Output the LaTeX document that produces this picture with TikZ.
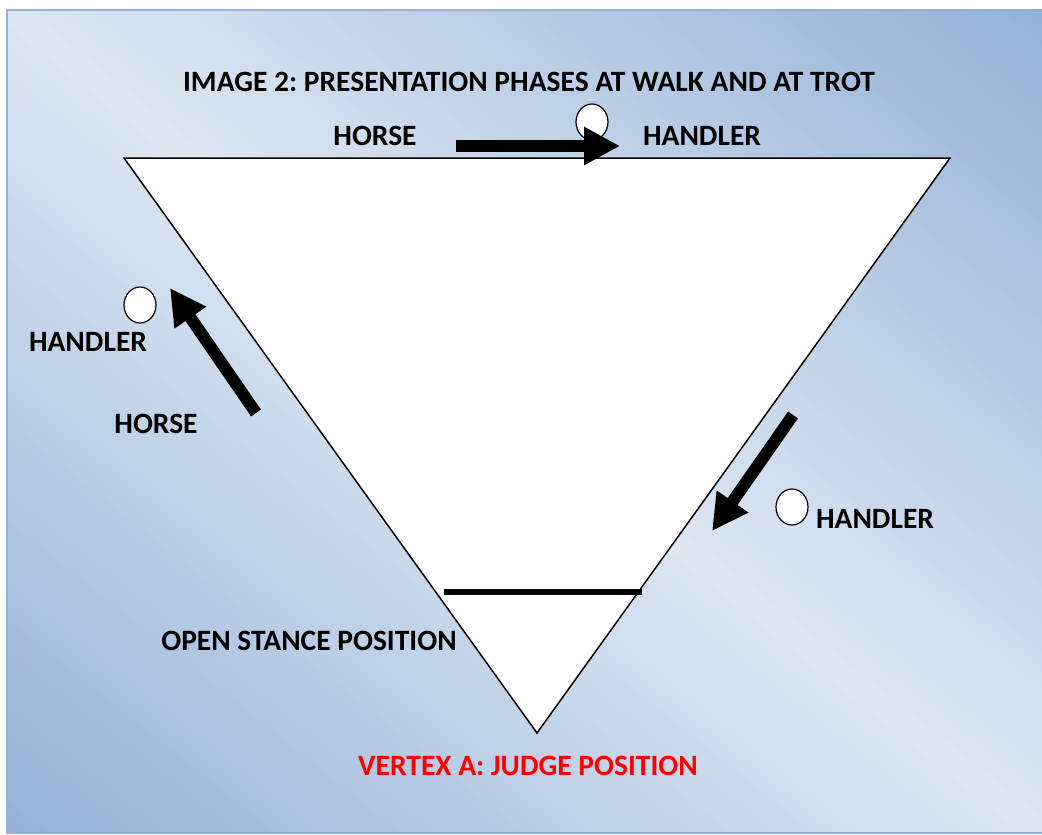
\documentclass[tikz,border=0pt]{standalone}
\usepackage{fontspec}
\setmainfont{Carlito}
\usetikzlibrary{arrows.meta,shapes.geometric}
\definecolor{bgdark}{HTML}{93B1D8}
\definecolor{bglight}{HTML}{DDE7F2}
\definecolor{bgedge}{HTML}{95B3D7}
\frenchspacing
\tikzset{
  lbl/.style={font=\fontsize{29.5}{34}\selectfont\bfseries\frenchspacing, text=black, inner sep=0pt},
  fatarrow/.style={line width=12pt, -{Triangle[length=36pt,width=36pt]}},
  handler/.style={draw=black, fill=white, line width=1.2pt, ellipse, minimum width=32pt, minimum height=36pt, inner sep=0pt},
}
\begin{document}
\begin{tikzpicture}[x=1pt,y=-1pt]
\useasboundingbox (0,0) rectangle (1042,835);
\fill[white] (0,0) rectangle (1042,835);
% diagonal gradient background, drawn as strips parallel to the TL--BR diagonal
\begin{scope}
\clip (7,10) rectangle (1042,833);
\foreach \i in {0,...,99}{
  \pgfmathsetmacro\sa{-1+\i*0.02}
  \pgfmathsetmacro\sb{\sa+0.022}
  \pgfmathtruncatemacro\p{round(abs(\sa+0.01)*100)}
  \pgfmathsetmacro\xa{524.5+\sa*517.5}
  \pgfmathsetmacro\ya{421.5-\sa*411.5}
  \pgfmathsetmacro\xb{524.5+\sb*517.5}
  \pgfmathsetmacro\yb{421.5-\sb*411.5}
  \fill[bgdark!\p!bglight] (\xa-1035,\ya-823) -- (\xa+1035,\ya+823) -- (\xb+1035,\yb+823) -- (\xb-1035,\yb-823) -- cycle;
}
\end{scope}
\draw[bgedge, line width=2pt] (1042,10) -- (7,10) -- (7,833) -- (1042,833);
% triangle
\coordinate (tl) at (124,158);
\coordinate (tr) at (950,158);
\coordinate (va) at (537,733);
\draw[fill=white, line width=1.5pt, line join=miter] (tl) -- (tr) -- (va) -- cycle;
% open stance line
\coordinate (os1) at (444,592);
\coordinate (os2) at (642,592);
\draw[line width=5.5pt] (os1) -- (os2);
% handlers
\node[handler] (h1) at (592,122) {};
\node[handler] (h2) at (140,305) {};
\node[handler] (h3) at (792,507) {};
% arrows
\coordinate (a1s) at (456,146);
\coordinate (a1e) at (620,146);
\draw[fatarrow] (a1s) -- (a1e);
\coordinate (a2s) at (256,413);
\coordinate (a2e) at (170,288);
\draw[fatarrow] (a2s) -- (a2e);
\coordinate (a3s) at (793,415);
\coordinate (a3e) at (712,531);
\draw[fatarrow] (a3s) -- (a3e);
% labels
\node[lbl] (title) at (529,82) {IMAGE 2: PRESENTATION PHASES AT WALK AND AT TROT};
\node[lbl] (horse1) at (375,136) {HORSE};
\node[lbl] (hand1) at (702,136) {HANDLER};
\node[lbl] (hand2) at (88,342) {HANDLER};
\node[lbl] (horse2) at (156,424) {HORSE};
\node[lbl] (hand3) at (875,519) {HANDLER};
\node[lbl] (open) at (309,641) {OPEN STANCE POSITION};
\node[lbl, text=red] (vertex) at (528,766) {VERTEX A: JUDGE POSITION};
\end{tikzpicture}
\end{document}
